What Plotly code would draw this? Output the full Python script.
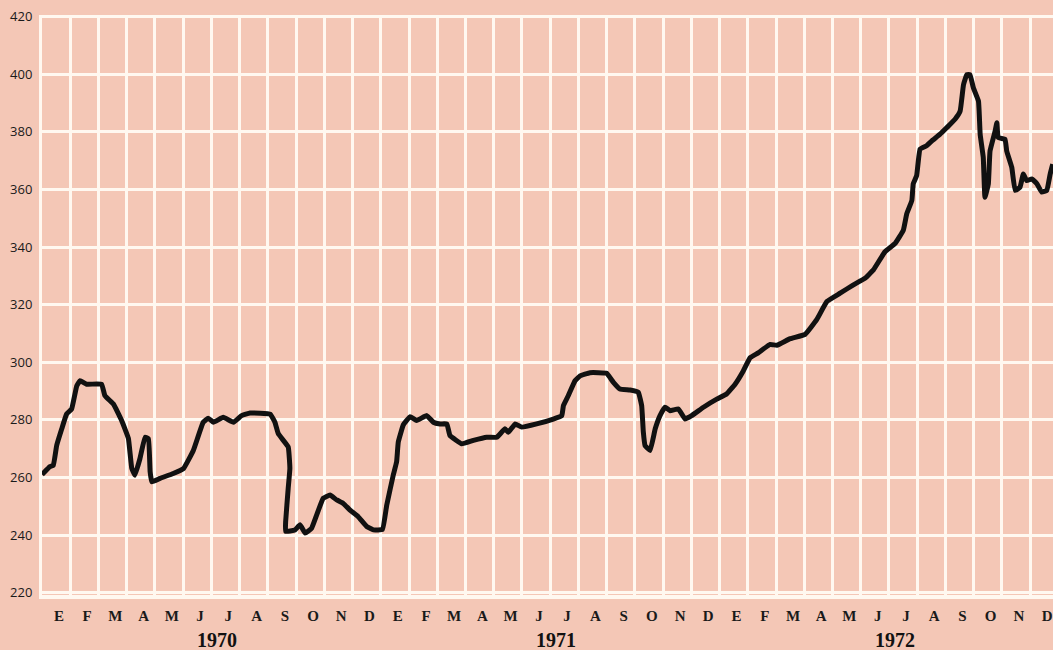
import plotly.graph_objects as go

# months elapsed since start of Jan 1970 and values
t = [0.0, 0.28, 0.40, 0.52, 0.70, 0.87, 1.05, 1.23, 1.35, 1.58, 2.11, 2.23, 2.53, 2.82,
     3.06, 3.18, 3.29, 3.47, 3.65, 3.77, 3.83, 3.89, 4.18, 4.65, 5.01, 5.36, 5.71, 5.89,
     6.07, 6.42, 6.78, 7.07, 7.37, 8.08, 8.25, 8.37, 8.72, 8.78, 8.72, 8.63, 8.63,
     8.96, 9.14, 9.32, 9.55, 9.73, 9.96, 10.20, 10.44, 10.67, 10.91, 11.20, 11.50, 11.74,
     12.06, 12.21, 12.44, 12.56, 12.62, 12.80, 13.04, 13.27, 13.63, 13.86, 14.10, 14.34,
     14.45, 14.87, 15.28, 15.75, 16.11, 16.40, 16.52, 16.76, 16.99, 17.52, 18.11, 18.41,
     18.47, 18.64, 18.88, 19.06, 19.41, 20.00, 20.24, 20.47, 20.83, 21.12, 21.24, 21.30,
     21.36, 21.54, 21.72, 21.89, 22.07, 22.25, 22.54, 22.78, 23.01, 23.43, 23.90, 24.25,
     24.55, 24.84, 25.08, 25.37, 25.79, 26.03, 26.50, 27.03, 27.44, 27.80, 28.27, 28.74,
     29.15, 29.45, 29.86, 30.22, 30.51, 30.63, 30.81, 30.86, 30.98, 31.10, 31.33, 31.52,
     31.81, 32.05, 32.34, 32.52, 32.64, 32.76, 32.87, 32.99, 33.17, 33.23, 33.34, 33.40,
     33.52, 33.58, 33.76, 33.82, 33.87, 34.11, 34.17, 34.35, 34.47, 34.64, 34.76, 34.88,
     35.06, 35.24, 35.41, 35.59, 35.71, 35.80]
values = [261.0, 263.8, 264.2, 271.1, 276.9, 282.0, 283.8, 291.8, 293.6, 292.4, 292.4, 288.4, 285.5, 279.8,
          273.6, 263.2, 260.8, 266.6, 274.0, 273.4, 262.0, 258.5, 259.7, 261.4, 263.1, 269.4, 279.2, 280.6,
          279.2, 280.9, 279.2, 281.5, 282.4, 282.0, 279.2, 275.2, 270.6, 263.1, 256.2, 244.7, 241.3,
          241.8, 243.6, 240.7, 242.4, 247.0, 252.8, 253.9, 252.2, 251.0, 248.7, 246.4, 243.0, 241.8,
          242.0, 250.4, 260.8, 265.4, 272.3, 278.3, 281.1, 279.8, 281.5, 279.2, 278.6, 278.6,
          274.6, 271.7, 272.9, 274.0, 274.0, 276.9, 275.7, 278.6, 277.5, 278.6, 280.3, 281.5,
          285.0, 288.4, 293.6, 295.3, 296.4, 296.2, 293.0, 290.7, 290.4, 289.6, 285.0, 275.7,
          271.1, 269.4, 276.9, 281.5, 284.4, 283.2, 283.8, 280.3, 281.5, 284.4, 287.2, 289.0,
          292.4, 297.0, 301.6, 303.3, 306.2, 305.9, 308.2, 309.7, 314.8, 321.1, 324.0, 326.9,
          329.2, 332.1, 338.4, 341.3, 345.9, 351.6, 356.2, 362.0, 364.8, 374.0, 375.2, 376.9,
          379.2, 381.5, 384.4, 387.2, 396.4, 399.9, 399.9, 395.3, 390.7, 379.2, 371.1, 357.3,
          362.0, 373.4, 380.3, 383.2, 378.0, 377.5, 373.4, 367.7, 359.7, 360.8, 365.4, 363.1,
          363.7, 362.0, 359.1, 359.7, 365.4, 368.8]

month_letters = ["E", "F", "M", "A", "M", "J", "J", "A", "S", "O", "N", "D"]
years = ["1970", "1971", "1972"]
y_ticks = [220, 240, 260, 280, 300, 320, 340, 360, 380, 400, 420]

BG = "#f4c7b6"
GRID = "#fff8f0"

tick_pos = [i + 0.6 for i in range(36)]
tick_txt = month_letters * 3

fig = go.Figure()
fig.add_trace(go.Scatter(x=t, y=values, mode="lines",
                         line=dict(color="#111111", width=5, shape="spline", smoothing=0.3),
                         hoverinfo="skip", showlegend=False))

fig.update_layout(
    width=1053, height=650,
    margin=dict(l=42, r=0, t=15, b=55),
    paper_bgcolor=BG, plot_bgcolor=BG,
    showlegend=False,
)
fig.update_xaxes(
    range=[0, 35.81],
    tickmode="array", tickvals=tick_pos, ticktext=tick_txt,
    showgrid=False, zeroline=False, ticks="",
    tickfont=dict(family="Liberation Serif", size=15, color="#1a1a1a", weight="bold"),
    ticklabelstandoff=4,
    minor=dict(tickmode="linear", tick0=0, dtick=1, showgrid=True, gridcolor=GRID, gridwidth=3, ticks=""),
    showline=True, linecolor=GRID, linewidth=4,
)
fig.update_yaxes(
    range=[219.2, 420.6],
    tickmode="array", tickvals=y_ticks, ticktext=[str(v) for v in y_ticks],
    showgrid=True, gridcolor=GRID, gridwidth=3, zeroline=False, ticks="",
    tickfont=dict(family="Open Sans", size=13, color="#1a1a1a"),
    ticklabelstandoff=4,
    showline=True, linecolor=GRID, linewidth=3,
)

for i, yr in enumerate(years):
    fig.add_annotation(x=i * 12 + 6.2, y=-0.078, xref="x", yref="paper",
                       text=yr, showarrow=False, yanchor="middle",
                       font=dict(family="Liberation Serif", size=20, color="#111111", weight="bold"))

fig.write_html("out.html", config={"displayModeBar": False},
               post_script="document.body.style.margin='0';document.body.style.background='" + BG + "';")
